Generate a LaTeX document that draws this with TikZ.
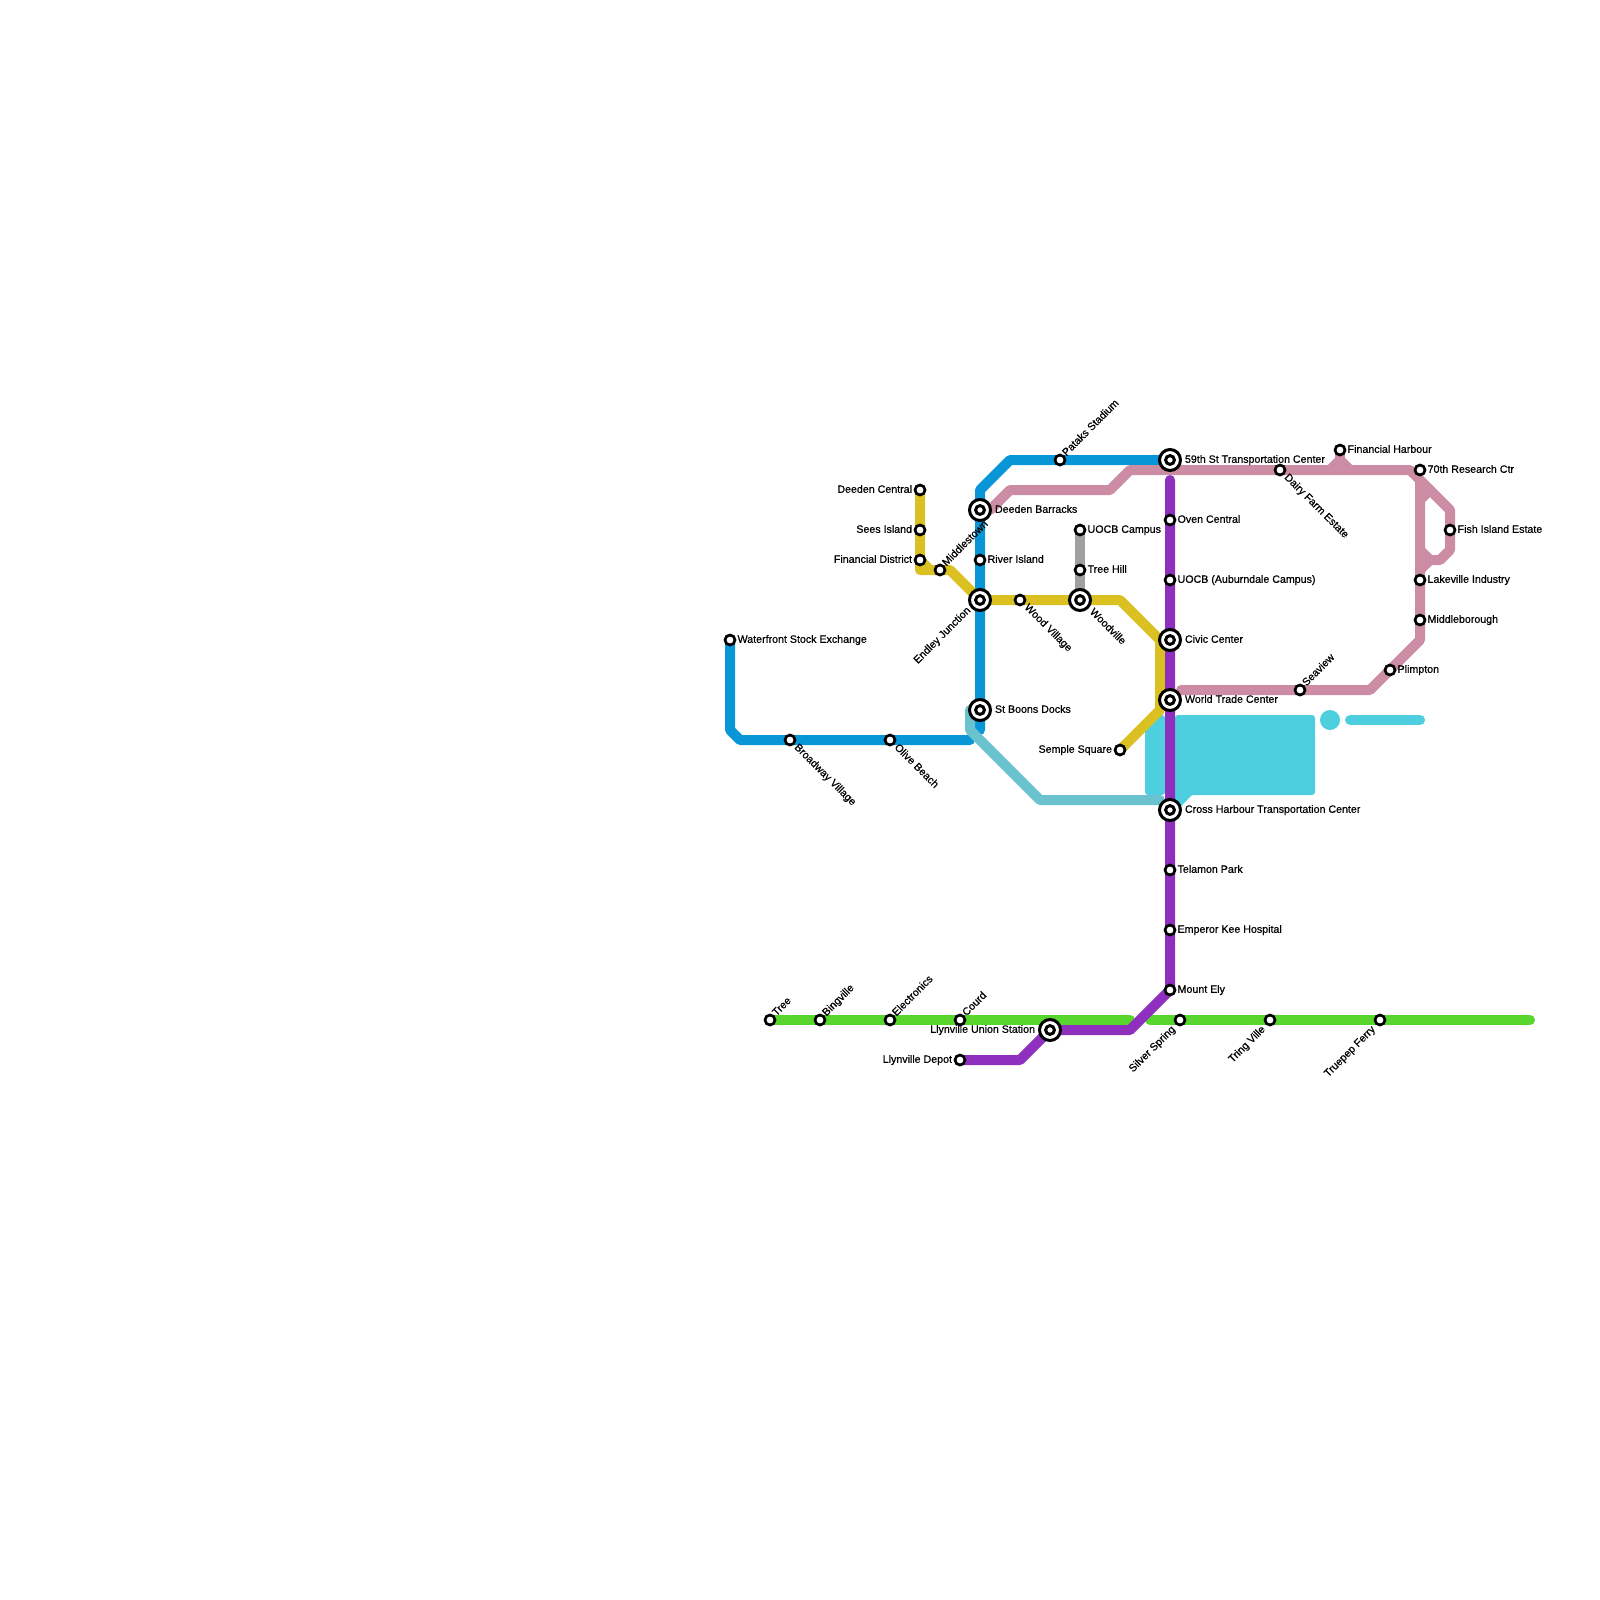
\documentclass[tikz,border=0pt]{standalone}
\usepackage{fontspec}
\setmainfont{Liberation Sans}[FakeBold=0.6]
\usetikzlibrary{backgrounds}
\definecolor{cblue}{HTML}{0896D7}
\definecolor{cpink}{HTML}{CB8CA4}
\definecolor{cpurple}{HTML}{8E30BD}
\definecolor{cyellow}{HTML}{DBC021}
\definecolor{cgreen}{HTML}{59D62D}
\definecolor{cteal}{HTML}{6AC2CE}
\definecolor{ccyan}{HTML}{4DCFDF}
\definecolor{cgray}{HTML}{A0A0A0}
\tikzset{
  st/.style={circle,draw=black,fill=white,line width=2.7pt,minimum size=10pt,inner sep=0pt,outer sep=0pt},
  ist/.style={circle,draw=black,fill=white,line width=3pt,minimum size=21pt,inner sep=0pt,outer sep=0pt,
    path picture={\draw[black,line width=3pt,fill=white] (path picture bounding box.center) circle (4.4pt);}},
  txt/.style={inner sep=0pt,outer sep=0pt,font=\fontsize{10.65pt}{12pt}\selectfont,text=black},
  lR/.style={txt,anchor=base west,xshift=7.6pt,yshift=-2.8pt},
  lL/.style={txt,anchor=base east,xshift=-8pt,yshift=-2.8pt},
  iR/.style={txt,anchor=base west,xshift=15pt,yshift=-2.8pt},
  iL/.style={txt,anchor=base east,xshift=-15pt,yshift=-2.8pt},
  lNE/.style={txt,xshift=6.5pt,yshift=3.5pt,rotate=45,anchor=base west},
  lSE/.style={txt,xshift=4pt,yshift=-8pt,rotate=-45,anchor=base west},
  lSW/.style={txt,xshift=-4.3pt,yshift=-10pt,rotate=45,anchor=base east},
  iSW/.style={txt,xshift=-9pt,yshift=-11pt,rotate=45,anchor=base east},
  iSE/.style={txt,xshift=9.3pt,yshift=-12.6pt,rotate=-45,anchor=base west},
  ln/.style={line width=10pt,line cap=round,line join=round},
}
\begin{document}
\begin{tikzpicture}[x=1pt,y=-1pt]
\useasboundingbox (0,0) rectangle (1600,1600);
% stations
\node[st] (waterfront) at (730,640) {};
\node[st] (broadway) at (790,740) {};
\node[st] (olive) at (890,740) {};
\node[st] (tree) at (770,1020) {};
\node[st] (bingville) at (820,1020) {};
\node[st] (electronics) at (890,1020) {};
\node[st] (courd) at (960,1020) {};
\node[st] (depot) at (960,1060) {};
\node[ist] (union) at (1050,1030) {};
\node[st] (deedenc) at (920,490) {};
\node[st] (sees) at (920,530) {};
\node[st] (findist) at (920,560) {};
\node[st] (middlestown) at (940,570) {};
\node[ist] (barracks) at (980,510) {};
\node[st] (river) at (980,560) {};
\node[ist] (endley) at (980,600) {};
\node[ist] (boons) at (980,710) {};
\node[st] (woodv) at (1020,600) {};
\node[ist] (woodville) at (1080,600) {};
\node[st] (uocbc) at (1080,530) {};
\node[st] (treehill) at (1080,570) {};
\node[st] (pataks) at (1060,460) {};
\node[ist] (fifty) at (1170,460) {};
\node[st] (oven) at (1170,520) {};
\node[st] (uocba) at (1170,580) {};
\node[ist] (civic) at (1170,640) {};
\node[ist] (wtc) at (1170,700) {};
\node[st] (semple) at (1120,750) {};
\node[ist] (cross) at (1170,810) {};
\node[st] (telamon) at (1170,870) {};
\node[st] (emperor) at (1170,930) {};
\node[st] (ely) at (1170,990) {};
\node[st] (silver) at (1180,1020) {};
\node[st] (tring) at (1270,1020) {};
\node[st] (truepep) at (1380,1020) {};
\node[st] (dairy) at (1280,470) {};
\node[st] (finharb) at (1340,450) {};
\node[st] (seventy) at (1420,470) {};
\node[st] (fish) at (1450,530) {};
\node[st] (lakeville) at (1420,580) {};
\node[st] (middleb) at (1420,620) {};
\node[st] (plimpton) at (1390,670) {};
\node[st] (seaview) at (1300,690) {};
% labels
\node[lR] (t1) at (waterfront) {Waterfront Stock Exchange};
\node[lSE] (t2) at (broadway) {Broadway Village};
\node[lSE] (t3) at (olive) {Olive Beach};
\node[lNE] (t4) at (tree) {Tree};
\node[lNE] (t5) at (bingville) {Bingville};
\node[lNE] (t6) at (electronics) {Electronics};
\node[lNE] (t7) at (courd) {Courd};
\node[lL] (t8) at (depot) {Llynville Depot};
\node[iL] (t9) at (union) {Llynville Union Station};
\node[lL] (t10) at (deedenc) {Deeden Central};
\node[lL] (t11) at (sees) {Sees Island};
\node[lL] (t12) at (findist) {Financial District};
\node[lNE] (t13) at (middlestown) {Middlestown};
\node[iR] (t14) at (barracks) {Deeden Barracks};
\node[lR] (t15) at (river) {River Island};
\node[iSW] (t16) at (endley) {Endley Junction};
\node[iR] (t17) at (boons) {St Boons Docks};
\node[lSE] (t18) at (woodv) {Wood Village};
\node[iSE] (t19) at (woodville) {Woodville};
\node[lR] (t20) at (uocbc) {UOCB Campus};
\node[lR] (t21) at (treehill) {Tree Hill};
\node[lNE] (t22) at (pataks) {Pataks Stadium};
\node[iR] (t23) at (fifty) {59th St Transportation Center};
\node[lR] (t24) at (oven) {Oven Central};
\node[lR] (t25) at (uocba) {UOCB (Auburndale Campus)};
\node[iR] (t26) at (civic) {Civic Center};
\node[iR] (t27) at (wtc) {World Trade Center};
\node[lL] (t28) at (semple) {Semple Square};
\node[iR] (t29) at (cross) {Cross Harbour Transportation Center};
\node[lR] (t30) at (telamon) {Telamon Park};
\node[lR] (t31) at (emperor) {Emperor Kee Hospital};
\node[lR] (t32) at (ely) {Mount Ely};
\node[lSW] (t33) at (silver) {Silver Spring};
\node[lSW] (t34) at (tring) {Tring Ville};
\node[lSW] (t35) at (truepep) {Truepep Ferry};
\node[lSE] (t36) at (dairy) {Dairy Farm Estate};
\node[lR] (t37) at (finharb) {Financial Harbour};
\node[lR] (t38) at (seventy) {70th Research Ctr};
\node[lR] (t39) at (fish) {Fish Island Estate};
\node[lR] (t40) at (lakeville) {Lakeville Industry};
\node[lR] (t41) at (middleb) {Middleborough};
\node[lR] (t42) at (plimpton) {Plimpton};
\node[lNE] (t43) at (seaview) {Seaview};
% lines
\begin{scope}[on background layer]
% cyan block
\fill[ccyan,rounded corners=3pt] (1145,728) -- (1158,715) -- (1165,715) -- (1165,795) -- (1145,795) -- cycle;
\fill[ccyan,rounded corners=3pt] (1175,715) -- (1315,715) -- (1315,795) -- (1175,795) -- cycle;
\fill[ccyan] (1175,790) -- (1192,795) -- (1180,807) -- (1175,807) -- cycle;
\node[circle,fill=ccyan,minimum size=20pt,inner sep=0pt] (cyandot) at (1330,720) {};
\coordinate (cy1) at (1350,720); \coordinate (cy2) at (1420,720);
\draw[ln,ccyan] (cy1) -- (cy2);
% blue
\coordinate (b1) at (730,730); \coordinate (b2) at (740,740); \coordinate (b3) at (970,740);
\coordinate (b4) at (980,730); \coordinate (b5) at (980,490); \coordinate (b6) at (1010,460);
\draw[ln,cblue] (waterfront.center) -- (b1) -- (b2) -- (broadway.center) -- (olive.center) -- (b3);
\draw[ln,cblue] (b4) -- (boons.center) -- (endley.center) -- (river.center) -- (barracks.center) -- (b5) -- (b6) -- (pataks.center) -- (fifty.center);
% teal
\coordinate (g1) at (970,710); \coordinate (g2) at (970,730); \coordinate (g3) at (1040,800); \coordinate (g4) at (1160,800);
\draw[ln,cteal] (g1) -- (g2) -- (g3) -- (g4);
% gray
\draw[ln,cgray] (uocbc.center) -- (treehill.center) -- (woodville.center);
% yellow
\coordinate (y1) at (920,570); \coordinate (y2) at (950,570); \coordinate (y3) at (1120,600);
\coordinate (y4) at (1160,640); \coordinate (y5) at (1160,710); \coordinate (y6) at (930,570);
\draw[ln,cyellow] (deedenc.center) -- (sees.center) -- (findist.center) -- (y1) -- (y2) -- (endley.center) -- (woodv.center) -- (woodville.center) -- (y3) -- (y4) -- (y5) -- (semple.center);
\draw[ln,cyellow] (findist.center) -- (y6);
% pink
\coordinate (p0) at (990,510); \coordinate (p1) at (1010,490); \coordinate (p2) at (1110,490);
\coordinate (p3) at (1130,470); \coordinate (p4) at (1410,470); \coordinate (p5) at (1420,480);
\coordinate (p6) at (1420,640); \coordinate (p7) at (1370,690); \coordinate (p8) at (1181,690);
\coordinate (p9) at (1450,510); \coordinate (p10) at (1450,550); \coordinate (p11) at (1440,560);
\coordinate (p12) at (1430,560); \coordinate (p13) at (1420,570);
\coordinate (p14) at (1330,470); \coordinate (p15) at (1340,460); \coordinate (p16) at (1350,470);
\coordinate (p17) at (1420,500); \coordinate (p18) at (1430,490); \coordinate (p19) at (1420,550);
\draw[ln,cpink] (p0) -- (p1) -- (p2) -- (p3) -- (p4) -- (p5) -- (p6) -- (p7) -- (p8);
\draw[ln,cpink] (p5) -- (p9) -- (p10) -- (p11) -- (p12) -- (p13);
\draw[ln,cpink] (p17) -- (p18);
\draw[ln,cpink] (p19) -- (p12);
\draw[ln,cpink] (p14) -- (p15) -- (p16);
\draw[ln,cpink] (p15) -- (finharb.center);
% green
\coordinate (gr1) at (1130,1020); \coordinate (gr2) at (1150,1020); \coordinate (gr3) at (1530,1020);
\draw[ln,cgreen] (tree.center) -- (gr1);
\draw[ln,cgreen] (gr2) -- (gr3);
% purple
\coordinate (v1) at (1020,1060); \coordinate (v2) at (1130,1030); \coordinate (v3) at (1170,480);
\draw[ln,cpurple] (depot.center) -- (v1) -- (union.center) -- (v2) -- (ely.center) -- (v3);
\end{scope}
\end{tikzpicture}
\end{document}
